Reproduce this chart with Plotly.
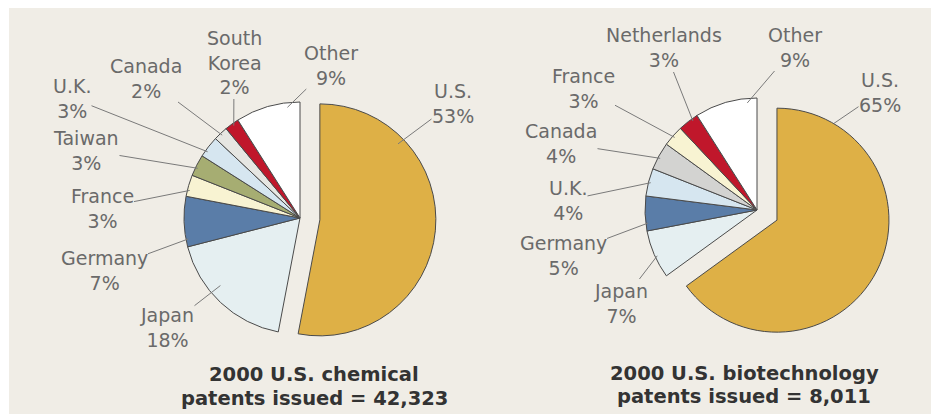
import math
import plotly.graph_objects as go

W, H = 931, 414

# ---------------- data ----------------
chem_countries = ["U.S.", "Japan", "Germany", "France", "Taiwan", "U.K.", "Canada", "South Korea", "Other"]
chem_share = [53, 18, 7, 3, 3, 3, 2, 2, 9]
chem_total = "42,323"

bio_countries = ["U.S.", "Japan", "Germany", "U.K.", "Canada", "France", "Netherlands", "Other"]
bio_share = [65, 7, 5, 4, 4, 3, 3, 9]
bio_total = "8,011"

# ---------------- style ----------------
chem_colors = ["#DEB046", "#E5EFF1", "#5A7DA8", "#F8F3D2", "#A6AD72", "#D6E6F0", "#E6E6E2", "#C0172B", "#FFFFFF"]
bio_colors = ["#DEB046", "#E5EFF1", "#5A7DA8", "#D6E6F0", "#D3D3D1", "#F8F3D2", "#C0172B", "#FFFFFF"]

chem_geo = dict(cx=300, cy=218, r=116, pull=0.172)
bio_geo = dict(cx=757, cy=210, r=112, pull=0.2)

chem_label_pos = {"U.S.": (453, 103), "Japan": (167, 327), "Germany": (104, 270), "France": (102, 208),
                  "Taiwan": (86, 150), "U.K.": (72, 98), "Canada": (146, 78), "South Korea": (234, 63),
                  "Other": (331, 65)}
chem_tip = {"U.S.": (0.24, 0.94), "Japan": (0.6, 0.9), "Germany": (0.15, 0.98), "France": (0.3, 0.98),
            "Taiwan": (0.4, 0.98), "U.K.": (0.3, 0.98), "Canada": (0.5, 0.98), "South Korea": (0.55, 0.98),
            "Other": (0.8, 0.96)}

bio_label_pos = {"U.S.": (880, 92), "Japan": (621, 303), "Germany": (563, 255), "U.K.": (568, 200),
                 "Canada": (561, 143), "France": (583, 88), "Netherlands": (664, 48), "Other": (795, 47)}
bio_tip = {"U.S.": (0.13, 1.0), "Japan": (0.45, 0.98), "Germany": (0.22, 0.98), "U.K.": (0.5, 0.98),
           "Canada": (0.45, 0.98), "France": (0.5, 0.98), "Netherlands": (0.69, 0.98), "Other": (0.84, 0.96)}

LABEL_FONT = dict(family="DejaVu Sans", size=19, color="#6A6A6A")
TITLE_FONT = dict(family="DejaVu Sans", size=19.5, color="#333333", weight="bold")
LEADER = "#7A7A7A"


def display_name(name):
    return name.replace(" ", "<br>")


fig = go.Figure()
annotations = []


def add_pie(countries, share, colors, geo, label_pos, tip):
    cx, cy, r, pull = geo["cx"], geo["cy"], geo["r"], geo["pull"]
    half = r * (1 + pull)
    pulls = [pull if c == "U.S." else 0 for c in countries]
    fig.add_trace(go.Pie(
        labels=countries, values=share, sort=False, direction="clockwise", rotation=0,
        pull=pulls, textinfo="none", hoverinfo="label+percent",
        marker=dict(colors=colors, line=dict(color="#4A4A4A", width=1)),
        domain=dict(x=[(cx - half) / W, (cx + half) / W],
                    y=[1 - (cy + half) / H, 1 - (cy - half) / H]),
        showlegend=False,
    ))
    total = float(sum(share))
    cum = 0.0
    for c, v in zip(countries, share):
        a0 = 360.0 * cum / total
        a1 = 360.0 * (cum + v) / total
        cum += v
        mid = math.radians((a0 + a1) / 2)
        p = pull if c == "U.S." else 0
        ox = cx + p * r * math.sin(mid)
        oy = cy - p * r * math.cos(mid)
        t, f = tip[c]
        ang = math.radians(a0 + t * (a1 - a0))
        tx = ox + f * r * math.sin(ang)
        ty = oy - f * r * math.cos(ang)
        lx, ly = label_pos[c]
        annotations.append(dict(
            x=tx / W, y=1 - ty / H, xref="paper", yref="paper",
            ax=lx - tx, ay=ly - ty, axref="pixel", ayref="pixel",
            text=f"{display_name(c)}<br>{v}%", showarrow=True, arrowhead=0,
            arrowwidth=1, arrowcolor=LEADER, standoff=0, startstandoff=0,
            font=LABEL_FONT, align="center", borderpad=0,
        ))


add_pie(chem_countries, chem_share, chem_colors, chem_geo, chem_label_pos, chem_tip)
add_pie(bio_countries, bio_share, bio_colors, bio_geo, bio_label_pos, bio_tip)

titles = [
    (314, 374, "2000 U.S. chemical"),
    (314, 398, f"patents issued = {chem_total}"),
    (744, 373, "2000 U.S. biotechnology"),
    (744, 396, f"patents issued = {bio_total}"),
]
for x, y, txt in titles:
    annotations.append(dict(x=x / W, y=1 - y / H, xref="paper", yref="paper", text=txt,
                            showarrow=False, xanchor="center", yanchor="middle", font=TITLE_FONT))

fig.update_layout(
    width=W, height=H, margin=dict(l=0, r=0, t=0, b=0, pad=0),
    paper_bgcolor="#F0EDE6", plot_bgcolor="#F0EDE6",
    annotations=annotations,
    shapes=[
        dict(type="rect", xref="paper", yref="paper", x0=0, x1=9 / W, y0=0, y1=1,
             fillcolor="#FFFFFF", line=dict(width=0)),
        dict(type="rect", xref="paper", yref="paper", x0=0, x1=1, y0=1 - 8 / H, y1=1,
             fillcolor="#FFFFFF", line=dict(width=0)),
    ],
)

fig.write_html("out.html")
